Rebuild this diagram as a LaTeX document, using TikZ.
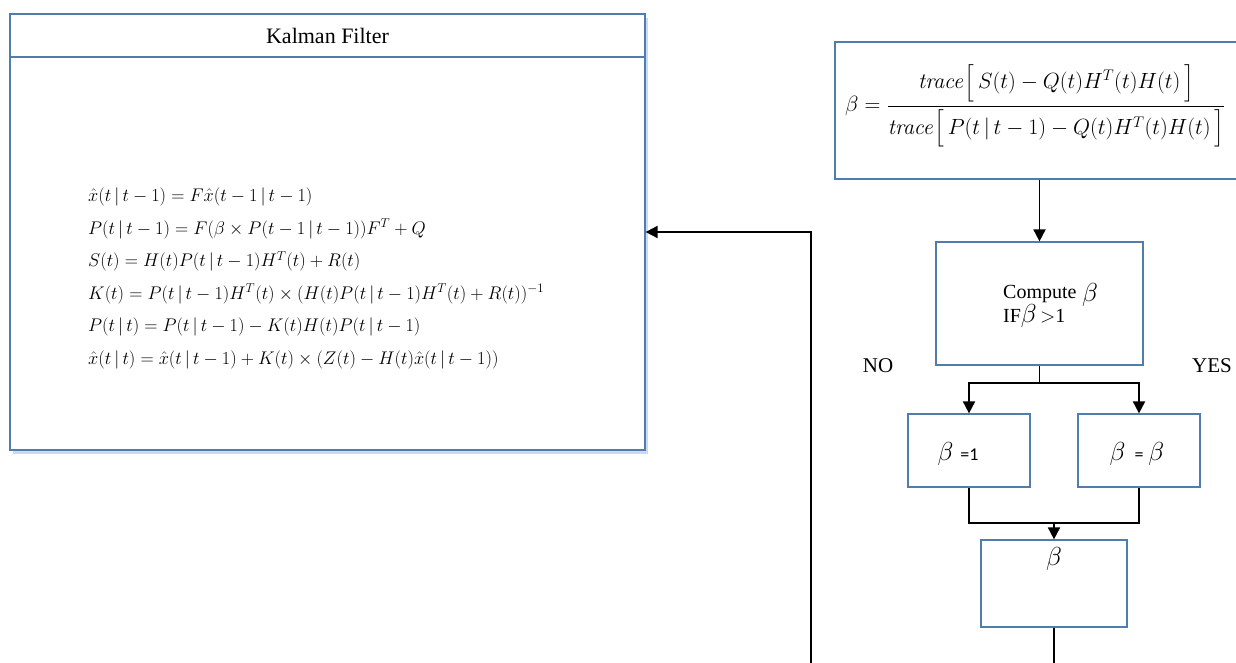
\RequirePackage{fix-cm}
\documentclass[tikz,border=0pt]{standalone}
\usepackage[no-math]{fontspec}
\setmainfont{Liberation Serif}
\newfontfamily\calib{Carlito}
\usepackage{amsmath}
\usetikzlibrary{arrows.meta,shadows}
\definecolor{boxblue}{RGB}{80,125,172}
\definecolor{shadowblue}{RGB}{195,215,240}
\tikzset{
  box/.style={draw=boxblue, line width=1.2pt, fill=white, inner sep=0pt},
  conn/.style={draw=black, line width=1.8pt, -{Triangle[length=12pt,width=12pt]}},
  plain/.style={draw=black, line width=1.8pt},
  lbl/.style={inner sep=0pt, font=\fontsize{21}{24}\selectfont},
  bigb/.style={inner sep=0pt, font=\fontsize{26}{28}\selectfont},
}
\begin{document}
\begin{tikzpicture}[x=1pt,y=-1pt]
\useasboundingbox (0,0) rectangle (1236,663);
% Kalman filter box
\node[box, minimum width=635pt, minimum height=436pt,
  drop shadow={shadow xshift=3pt, shadow yshift=-4pt, fill=shadowblue, opacity=0.9}] (kf) at (327.5,232) {};
\node[lbl, font=\fontsize{22}{24}\selectfont] (kft) at (327.5,36) {Kalman Filter};
\draw[boxblue, line width=1.2pt] (kf.west |- 0,57) coordinate (hl) -- (kf.east |- 0,57) coordinate (hr);
\node[anchor=north west, align=left, inner sep=0pt, font=\fontsize{18.3}{32.5}\selectfont] (eq) at (88,188) {%
$\hat{x}(t\,|\,t-1)=F\hat{x}(t-1\,|\,t-1)$\\
$P(t\,|\,t-1)=F(\beta\times P(t-1\,|\,t-1))F^{T}+Q$\\
$S(t)=H(t)P(t\,|\,t-1)H^{T}(t)+R(t)$\\
$K(t)=P(t\,|\,t-1)H^{T}(t)\times(H(t)P(t\,|\,t-1)H^{T}(t)+R(t))^{-1}$\\
$P(t\,|\,t)=P(t\,|\,t-1)-K(t)H(t)P(t\,|\,t-1)$\\
$\hat{x}(t\,|\,t)=\hat{x}(t\,|\,t-1)+K(t)\times(Z(t)-H(t)\hat{x}(t\,|\,t-1))$};
% formula box
\node[box, minimum width=415pt, minimum height=137pt] (fb) at (1042.5,110.5) {};
\node[anchor=west, inner sep=0pt, font=\fontsize{22}{25}\selectfont] (fbt) at (845,106)
 {$\beta=\dfrac{\mathit{trace}\Big[\,S(t)-Q(t)H^{T}(t)H(t)\,\Big]}{\mathit{trace}\Big[\,P(t\,|\,t-1)-Q(t)H^{T}(t)H(t)\,\Big]}$};
% compute box
\node[box, minimum width=207pt, minimum height=123pt] (cb) at (1039.5,303.5) {};
\node[lbl, anchor=base west, font=\fontsize{20}{22}\selectfont] (cbt1) at (1003,298) {Compute};
\node[bigb] (cbb) at (1090,295) {$\beta$};
\node[lbl, anchor=base west, font=\fontsize{20}{22}\selectfont] (cbt2) at (1003,322) {IF\fontsize{26}{28}\selectfont$\beta$\fontsize{20}{22}\selectfont\,$>$1};
\node[lbl] (no) at (878,366) {NO};
\node[lbl] (yes) at (1212,366) {YES};
% branch boxes
\node[box, minimum width=122pt, minimum height=73pt] (b1) at (969,450.5) {};
\node[inner sep=0pt] (b1t) at (958,454) {\fontsize{26}{28}\selectfont$\beta$\hspace{7pt}\fontsize{18}{20}\selectfont\calib =1};
\node[box, minimum width=122pt, minimum height=73pt] (b2) at (1139,450.5) {};
\node[inner sep=0pt] (b2t) at (1137,454) {\fontsize{26}{28}\selectfont$\beta$\hspace{9pt}\fontsize{18}{20}\selectfont\calib =\hspace{5pt}\fontsize{26}{28}\selectfont$\beta$};
\node[box, minimum width=146pt, minimum height=87pt] (bb) at (1054,583.5) {};
\node[bigb] (bbt) at (1054,559) {$\beta$};
% connectors
\draw[conn] (fb.south -| cb.north) -- (cb.north);
\coordinate (split) at (cb.south |- 0,383);
\draw[conn] (cb.south) -- (split) -| (b1.north);
\draw[conn] (split) -| (b2.north);
\coordinate (merge) at (1054,523);
\draw[plain] (b1.south) |- (merge);
\draw[plain] (b2.south) |- (merge);
\draw[conn] (merge) -- (bb.north);
\draw[conn] (bb.south) -- (1054,700) -| (811,500) |- (kf.east);
\end{tikzpicture}
\end{document}
